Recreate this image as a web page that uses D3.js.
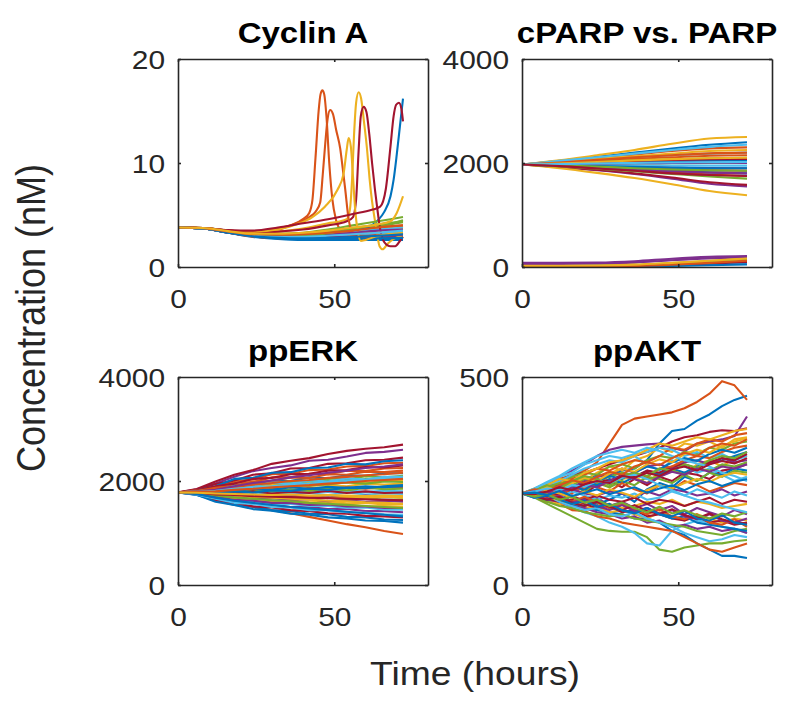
<!DOCTYPE html>
<html>
<head>
<meta charset="utf-8">
<script src="https://cdn.jsdelivr.net/npm/d3@7"></script>
<style>
  body { margin: 0; background: #fff; }
  svg { display: block; font-family: "Liberation Sans", Arial, sans-serif; }
</style>
</head>
<body>
<svg id="chart" width="800" height="711"></svg>
<script>
// MATLAB default line colour order
const palette = ["#0072BD", "#D95319", "#EDB120", "#7E2F8E", "#77AC30", "#4DBEEE", "#A2142F"];

const xTicks = [0, 50];

// ---- Cyclin A (nM) ----
const cycTime = [0, 8, 16, 24, 32, 40, 48, 56, 64, 72];
const cycBase = [
  [3.8, 3.7, 3.3, 2.9, 2.7, 2.6, 2.6, 2.6, 2.6, 2.6],
  [3.8, 3.72, 3.4, 3.1, 2.95, 2.9, 2.95, 3.0, 3.1, 3.2],
  [3.8, 3.73, 3.45, 3.2, 3.1, 3.1, 3.2, 3.4, 3.6, 3.9],
  [3.8, 3.7, 3.3, 2.95, 2.8, 2.7, 2.7, 2.75, 2.8, 2.9],
  [3.8, 3.72, 3.42, 3.15, 3.05, 3.1, 3.3, 3.6, 3.95, 4.3],
  [3.8, 3.71, 3.38, 3.05, 2.9, 2.85, 2.9, 3.0, 3.1, 3.2],
  [3.8, 3.72, 3.4, 3.1, 3.0, 3.0, 3.05, 3.1, 3.2, 3.3],
  [3.8, 3.7, 3.32, 2.98, 2.85, 2.8, 2.85, 2.9, 2.95, 3.0],
  [3.8, 3.74, 3.46, 3.25, 3.2, 3.25, 3.4, 3.6, 3.8, 4.0],
  [3.8, 3.71, 3.36, 3.02, 2.88, 2.85, 2.9, 3.0, 3.05, 3.1],
  [3.8, 3.72, 3.4, 3.1, 3.0, 3.0, 3.1, 3.25, 3.4, 3.55],
  [3.8, 3.73, 3.44, 3.18, 3.1, 3.15, 3.3, 3.55, 3.85, 4.5],
  [3.8, 3.71, 3.37, 3.05, 2.95, 2.95, 3.05, 3.2, 3.35, 3.45],
  [3.8, 3.7, 3.32, 2.95, 2.8, 2.75, 2.75, 2.8, 2.85, 2.9],
  [3.8, 3.71, 3.36, 3.02, 2.9, 2.88, 2.95, 3.05, 3.2, 3.3],
  [3.8, 3.7, 3.3, 2.92, 2.78, 2.72, 2.72, 2.75, 2.8, 2.85],
  [3.8, 3.72, 3.42, 3.12, 3.0, 3.0, 3.1, 3.25, 3.45, 3.7],
  [3.8, 3.71, 3.36, 3.0, 2.85, 2.8, 2.82, 2.88, 2.95, 3.05],
  [3.8, 3.72, 3.4, 3.08, 2.95, 2.95, 3.0, 3.1, 3.25, 3.4],
  [3.8, 3.71, 3.38, 3.04, 2.92, 2.9, 2.95, 3.05, 3.2, 3.35],
  [3.8, 3.7, 3.34, 3.0, 2.88, 2.85, 2.88, 2.95, 3.05, 3.15]
];
// cells with a division spike, as [hour, nM] pairs
const cycSpikes = [
  [[0,3.8],[8,3.75],[16,3.5],[24,3.2],[32,3.1],[40,3.1],[48,3.2],[56,3.4],[62,4.0],[64,4.5],[66,5.3],[68,6.8],[69,8.4],[70,10.8],[71,13.5],[72,16.2]],
  [[0,3.8],[8,3.75],[16,3.5],[24,3.4],[32,3.6],[36,4.0],[40,4.6],[42,5.2],[43,6.4],[44,10.5],[45,15],[45.6,16.6],[46.2,17],[46.8,16.6],[47.5,14.5],[48.4,10],[49.4,6.5],[50.5,4.6],[52,3.6],[56,3.0],[60,2.9],[66,3.0],[72,3.2]],
  [[0,3.8],[8,3.75],[16,3.5],[24,3.3],[32,3.4],[40,3.7],[48,4.2],[52,4.4],[54,4.6],[55,5.5],[55.7,8.4],[56.3,12.5],[57,15.8],[57.8,16.8],[58.6,16.2],[59.5,14],[60.5,11.3],[61.3,8.5],[62.1,6.3],[63,4.5],[63.7,3.2],[64.5,2],[65.5,1.7],[67,2.2],[69,2.7],[72,3.0]],
  [[0,3.8],[8,3.7],[16,3.35],[24,3.0],[32,2.85],[40,2.8],[48,2.85],[56,2.9],[64,3.0],[72,3.1]],
  [[0,3.8],[8,3.75],[16,3.45],[24,3.2],[32,3.2],[40,3.3],[48,3.6],[56,4.0],[64,4.4],[72,4.8]],
  [[0,3.8],[8,3.72],[16,3.4],[24,3.1],[32,3.0],[40,3.05],[48,3.2],[56,3.4],[64,3.6],[72,3.8]],
  [[0,3.8],[8,3.75],[16,3.5],[24,3.3],[32,3.4],[40,3.6],[48,4.0],[54,4.4],[56,4.8],[57,6.5],[57.8,11.2],[58.5,14.5],[59.4,15.4],[60.3,14.9],[61.2,12.8],[62.1,10],[63,7.5],[63.7,5.8],[64.7,3.6],[66,2.4],[68,2.0],[69.5,2.0],[71,2.5],[72,2.9]],
  [[0,3.8],[8,3.7],[16,3.3],[24,2.95],[32,2.75],[40,2.65],[48,2.65],[56,2.7],[64,2.75],[72,2.8]],
  [[0,3.8],[8,3.75],[16,3.5],[24,3.4],[32,3.7],[38,4.2],[42,4.8],[44,5.3],[45.5,6.2],[46.3,8.8],[47.1,11.8],[47.9,14.3],[48.7,15.1],[49.6,14.7],[50.6,13.2],[51.9,11.4],[52.7,9.5],[53.5,7.5],[54.6,4.6],[56,3.3],[60,3.0],[66,3.1],[72,3.3]],
  [[0,3.8],[8,3.75],[16,3.5],[24,3.4],[32,3.6],[38,4.1],[43,4.8],[47,5.8],[51,7.4],[53,9],[54,11.3],[54.6,12.4],[55.3,11.6],[56,8.7],[56.7,5.5],[57.5,3.5],[58.5,2.5],[60,2.6],[64,3.0],[72,3.3]],
  [[0,3.8],[8,3.72],[16,3.4],[24,3.1],[32,3.0],[40,3.0],[48,3.1],[56,3.3],[64,3.5],[72,3.6]],
  [[0,3.8],[8,3.7],[16,3.38],[24,3.05],[32,2.95],[40,3.0],[48,3.25],[56,3.7],[64,4.1],[72,4.4]],
  [[0,3.8],[8,3.7],[16,3.35],[24,3.0],[32,2.9],[40,2.9],[48,3.0],[56,3.15],[64,3.3],[72,3.5]],
  [[0,3.8],[8,3.75],[16,3.55],[24,3.5],[32,3.8],[40,4.2],[48,4.6],[56,5.1],[62,5.5],[64.7,5.8],[66.5,7.5],[68,11.6],[69,14.5],[69.8,15.6],[70.7,15.8],[71.5,15.2],[72,14.0]],
  [[0,3.8],[8,3.7],[16,3.3],[24,2.95],[32,2.8],[40,2.75],[48,2.8],[56,2.9],[64,3.0],[72,3.15]],
  [[0,3.8],[8,3.72],[16,3.42],[24,3.15],[32,3.1],[40,3.15],[48,3.3],[56,3.5],[64,3.8],[72,4.0]],
  [[0,3.8],[8,3.75],[16,3.45],[24,3.2],[32,3.2],[40,3.3],[48,3.5],[56,3.8],[64,4.1],[68,4.4],[70,5.2],[72,6.8]]
];
const cycTicks = [0, 10, 20];

// ---- cPARP vs. PARP ----
const parpTime = [0, 12, 24, 36, 48, 60, 72];
const parpHigh = [
  [1970, 2040, 2120, 2200, 2280, 2350, 2400],
  [1970, 2030, 2100, 2160, 2230, 2280, 2300],
  [1970, 2050, 2150, 2250, 2370, 2470, 2500],
  [1970, 1920, 1860, 1790, 1700, 1600, 1550],
  [1970, 1975, 1985, 1990, 1995, 2000, 2000],
  [1970, 2010, 2060, 2110, 2150, 2180, 2200],
  [1970, 1925, 1870, 1800, 1720, 1630, 1580],
  [1970, 1950, 1920, 1880, 1850, 1820, 1800],
  [1970, 2000, 2040, 2080, 2110, 2140, 2150],
  [1970, 1900, 1810, 1710, 1590, 1460, 1380],
  [1970, 1960, 1945, 1930, 1915, 1905, 1900],
  [1970, 1995, 2020, 2050, 2070, 2090, 2100],
  [1970, 1965, 1960, 1955, 1950, 1950, 1950],
  [1970, 1950, 1930, 1900, 1880, 1860, 1850],
  [1970, 1985, 2000, 2020, 2035, 2045, 2050],
  [1970, 1940, 1900, 1860, 1820, 1780, 1750],
  [1970, 2020, 2080, 2130, 2180, 2230, 2250],
  [1970, 1980, 1985, 1995, 2000, 2005, 2000],
  [1970, 1935, 1890, 1840, 1790, 1740, 1700],
  [1970, 2040, 2110, 2180, 2250, 2310, 2350],
  [1970, 1990, 2010, 2040, 2060, 2075, 2080],
  [1970, 1955, 1940, 1925, 1910, 1900, 1900],
  [1970, 2010, 2060, 2110, 2150, 2185, 2200],
  [1970, 1990, 2020, 2050, 2075, 2090, 2100],
  [1970, 1945, 1910, 1870, 1840, 1815, 1800],
  [1970, 1955, 1930, 1900, 1875, 1860, 1850],
  [1970, 1978, 1990, 2000, 2010, 2015, 2020],
  [1970, 1940, 1895, 1850, 1800, 1770, 1750]
];
const parpLow = [
  [20, 20, 25, 35, 60, 90, 115],
  [10, 10, 15, 25, 55, 95, 135],
  [15, 15, 20, 30, 60, 100, 150],
  [60, 60, 65, 85, 130, 165, 185],
  [20, 20, 25, 40, 75, 115, 160],
  [5, 5, 8, 15, 30, 50, 70],
  [10, 10, 12, 20, 40, 65, 95],
  [0, 0, 3, 8, 20, 35, 50],
  [5, 5, 8, 18, 45, 80, 120],
  [25, 25, 30, 45, 80, 120, 165],
  [80, 80, 85, 110, 160, 195, 210]
];
const parpTicks = [0, 2000, 4000];

// ---- ppERK ----
const erkTime = [0, 6, 12, 18, 24, 30, 36, 42, 48, 54, 60, 66, 72];
const erk = [
  [1780, 1810, 1840, 1930, 1930, 2010, 2000, 2070, 2050, 2110, 2100, 2150, 2150],
  [1780, 1740, 1640, 1570, 1500, 1440, 1380, 1310, 1240, 1170, 1110, 1040, 980],
  [1780, 1795, 1790, 1850, 1840, 1890, 1870, 1910, 1920, 1900, 1950, 1930, 1950],
  [1780, 1840, 1950, 2080, 2190, 2250, 2300, 2390, 2410, 2470, 2540, 2560, 2600],
  [1780, 1765, 1720, 1690, 1710, 1670, 1690, 1660, 1680, 1640, 1670, 1640, 1650],
  [1780, 1785, 1770, 1800, 1770, 1810, 1780, 1820, 1790, 1820, 1790, 1810, 1800],
  [1780, 1845, 1990, 2120, 2210, 2330, 2390, 2440, 2520, 2580, 2620, 2650, 2700],
  [1780, 1730, 1630, 1540, 1510, 1440, 1420, 1370, 1360, 1310, 1300, 1260, 1250],
  [1780, 1825, 1880, 2000, 2030, 2130, 2140, 2210, 2220, 2280, 2290, 2340, 2350],
  [1780, 1760, 1680, 1660, 1610, 1610, 1570, 1580, 1540, 1550, 1510, 1520, 1500],
  [1780, 1750, 1650, 1620, 1560, 1550, 1500, 1500, 1460, 1460, 1420, 1420, 1400],
  [1780, 1795, 1840, 1850, 1920, 1910, 1970, 1950, 2010, 1990, 2040, 2020, 2050],
  [1780, 1780, 1730, 1780, 1740, 1790, 1740, 1770, 1730, 1780, 1740, 1760, 1750],
  [1780, 1825, 1940, 2010, 2120, 2150, 2240, 2250, 2330, 2340, 2400, 2410, 2450],
  [1780, 1815, 1900, 2040, 2060, 2160, 2170, 2250, 2260, 2330, 2320, 2380, 2400],
  [1780, 1790, 1780, 1820, 1800, 1850, 1820, 1870, 1840, 1880, 1850, 1880, 1870],
  [1780, 1755, 1710, 1660, 1660, 1620, 1630, 1590, 1600, 1570, 1580, 1550, 1550],
  [1780, 1765, 1740, 1700, 1740, 1690, 1730, 1690, 1720, 1680, 1720, 1690, 1700],
  [1780, 1795, 1850, 1870, 1940, 1940, 2000, 1990, 2050, 2030, 2090, 2070, 2100],
  [1780, 1745, 1680, 1620, 1610, 1560, 1560, 1520, 1520, 1480, 1490, 1450, 1450],
  [1780, 1745, 1630, 1580, 1510, 1490, 1440, 1420, 1380, 1370, 1330, 1320, 1300],
  [1780, 1735, 1600, 1540, 1460, 1430, 1370, 1350, 1300, 1280, 1240, 1230, 1200],
  [1780, 1820, 1860, 1970, 1980, 2070, 2070, 2140, 2130, 2200, 2190, 2240, 2250],
  [1780, 1800, 1800, 1870, 1860, 1920, 1900, 1950, 1930, 1980, 1960, 2000, 2000],
  [1780, 1760, 1700, 1700, 1660, 1670, 1640, 1650, 1610, 1630, 1600, 1620, 1600],
  [1780, 1780, 1790, 1780, 1830, 1800, 1840, 1810, 1860, 1820, 1870, 1840, 1850],
  [1780, 1740, 1660, 1580, 1560, 1500, 1490, 1440, 1440, 1400, 1390, 1360, 1350],
  [1780, 1815, 1900, 1950, 2040, 2060, 2130, 2140, 2200, 2210, 2270, 2260, 2300],
  [1780, 1785, 1800, 1800, 1850, 1830, 1880, 1850, 1890, 1870, 1900, 1880, 1900],
  [1780, 1805, 1870, 1910, 1990, 2000, 2070, 2060, 2130, 2120, 2180, 2170, 2200],
  [1780, 1770, 1720, 1730, 1690, 1720, 1680, 1710, 1670, 1700, 1670, 1700, 1680],
  [1780, 1750, 1690, 1640, 1620, 1580, 1580, 1540, 1550, 1510, 1510, 1480, 1480],
  [1780, 1790, 1820, 1835, 1880, 1880, 1920, 1910, 1940, 1970, 1950, 1990, 1980],
  [1780, 1805, 1820, 1900, 1900, 1970, 1950, 2010, 1990, 2050, 2030, 2080, 2080],
  [1780, 1770, 1780, 1760, 1800, 1760, 1790, 1770, 1810, 1770, 1800, 1770, 1780],
  [1780, 1790, 1760, 1800, 1780, 1820, 1810, 1850, 1830, 1870, 1860, 1900, 1920],
  [1780, 1800, 1850, 1880, 1930, 1960, 2000, 2020, 2060, 2080, 2110, 2130, 2160],
  [1780, 1770, 1750, 1720, 1700, 1680, 1660, 1640, 1620, 1610, 1590, 1580, 1560],
  [1780, 1795, 1830, 1900, 1960, 2010, 2070, 2110, 2160, 2200, 2250, 2280, 2320],
  [1780, 1760, 1720, 1680, 1660, 1630, 1610, 1580, 1560, 1540, 1520, 1500, 1480],
  [1780, 1790, 1810, 1850, 1880, 1900, 1930, 1950, 1980, 2000, 2020, 2040, 2060],
  [1780, 1770, 1740, 1730, 1710, 1700, 1690, 1680, 1670, 1660, 1650, 1640, 1630],
  [1780, 1750, 1680, 1620, 1580, 1540, 1500, 1470, 1440, 1410, 1380, 1350, 1320],
  [1780, 1790, 1800, 1830, 1850, 1880, 1900, 1920, 1950, 1970, 2000, 2020, 2040],
  [1780, 1775, 1760, 1750, 1740, 1730, 1740, 1720, 1730, 1720, 1710, 1720, 1710]
];
const erkTicks = [0, 2000, 4000];

// ---- ppAKT ----
const aktTime = [0, 4, 8, 12, 16, 20, 24, 28, 32, 36, 40, 44, 48, 52, 56, 60, 64, 68, 72];
const akt = [
  [220, 225, 235, 240, 250, 255, 265, 260, 275, 280, 300, 340, 370, 375, 395, 410, 430, 445, 455],
  [220, 225, 240, 255, 265, 275, 295, 340, 385, 400, 405, 410, 415, 425, 440, 460, 490, 480, 445],
  [220, 230, 228, 245, 260, 250, 270, 285, 275, 300, 310, 330, 320, 340, 335, 345, 330, 350, 355],
  [220, 230, 245, 260, 275, 290, 310, 325, 332, 335, 338, 340, 330, 322, 340, 345, 350, 358, 405],
  [220, 210, 195, 180, 165, 150, 135, 130, 128, 128, 115, 85, 80, 90, 95, 100, 100, 105, 108],
  [220, 215, 205, 200, 185, 175, 165, 150, 140, 125, 100, 95, 130, 145, 155, 150, 140, 135, 125],
  [220, 230, 245, 250, 265, 270, 280, 290, 300, 310, 320, 330, 345, 355, 360, 368, 372, 370, 377],
  [220, 215, 210, 200, 195, 185, 180, 175, 170, 160, 160, 150, 130, 120, 100, 85, 70, 70, 65],
  [220, 212, 200, 195, 180, 178, 165, 160, 150, 145, 140, 135, 130, 115, 100, 85, 80, 90, 100],
  [220, 228, 215, 235, 225, 240, 250, 235, 255, 260, 245, 270, 280, 265, 290, 300, 285, 305, 310],
  [220, 210, 220, 205, 215, 200, 210, 190, 200, 185, 195, 180, 190, 170, 185, 175, 165, 180, 170],
  [220, 232, 245, 240, 260, 270, 265, 285, 290, 280, 300, 310, 305, 320, 315, 330, 325, 340, 345],
  [220, 225, 240, 250, 265, 280, 290, 300, 295, 310, 290, 275, 300, 285, 270, 280, 265, 250, 260],
  [220, 215, 225, 210, 230, 220, 240, 250, 235, 255, 240, 260, 250, 270, 265, 255, 275, 280, 290],
  [220, 218, 210, 220, 200, 210, 195, 205, 220, 200, 230, 245, 235, 260, 250, 270, 265, 280, 275],
  [220, 230, 240, 235, 255, 265, 280, 275, 290, 300, 295, 310, 330, 325, 340, 350, 345, 360, 365],
  [220, 212, 205, 195, 200, 185, 190, 175, 180, 170, 160, 175, 165, 155, 170, 160, 150, 160, 155],
  [220, 215, 205, 200, 190, 185, 175, 170, 160, 165, 150, 155, 140, 145, 135, 140, 130, 135, 125],
  [220, 225, 215, 230, 240, 225, 245, 235, 250, 240, 260, 255, 245, 265, 250, 270, 260, 275, 270],
  [220, 230, 245, 260, 270, 290, 300, 310, 305, 315, 320, 330, 325, 310, 320, 305, 315, 300, 310],
  [220, 214, 208, 200, 205, 195, 185, 190, 175, 180, 165, 170, 160, 155, 165, 150, 155, 145, 150],
  [220, 225, 230, 220, 235, 245, 240, 255, 245, 260, 275, 265, 280, 270, 285, 295, 300, 310, 320],
  [220, 215, 225, 230, 220, 240, 235, 225, 245, 230, 220, 240, 230, 250, 240, 225, 235, 245, 240],
  [220, 228, 240, 255, 250, 270, 280, 295, 300, 310, 325, 340, 335, 345, 355, 350, 360, 370, 375],
  [220, 224, 230, 240, 235, 250, 260, 265, 280, 270, 285, 290, 280, 295, 300, 290, 305, 295, 300],
  [220, 212, 200, 190, 185, 175, 170, 165, 170, 160, 155, 150, 145, 140, 130, 125, 120, 130, 135],
  [220, 210, 215, 200, 190, 180, 185, 170, 165, 175, 160, 150, 140, 125, 115, 105, 110, 120, 115],
  [220, 225, 220, 235, 230, 245, 255, 250, 265, 260, 275, 270, 285, 290, 280, 295, 305, 300, 315],
  [220, 215, 205, 210, 195, 190, 200, 185, 180, 175, 185, 170, 160, 165, 150, 145, 140, 135, 130],
  [220, 226, 235, 228, 240, 232, 250, 245, 260, 270, 260, 280, 285, 300, 310, 305, 320, 330, 335],
  [220, 216, 210, 205, 195, 200, 190, 195, 185, 190, 200, 195, 205, 190, 200, 195, 185, 190, 195],
  [220, 222, 215, 225, 230, 220, 215, 225, 220, 210, 225, 215, 230, 225, 215, 220, 230, 215, 225],
  [220, 228, 235, 245, 240, 255, 250, 260, 270, 265, 255, 260, 275, 265, 280, 275, 290, 285, 295],
  [220, 215, 220, 210, 225, 215, 205, 215, 210, 220, 205, 210, 225, 215, 230, 220, 210, 225, 215],
  [220, 218, 212, 220, 210, 205, 215, 205, 200, 210, 195, 205, 200, 190, 200, 210, 195, 205, 200],
  [220, 226, 218, 232, 240, 228, 250, 262, 255, 270, 285, 278, 295, 305, 298, 315, 325, 318, 330],
  [220, 214, 222, 210, 200, 212, 198, 185, 195, 180, 170, 182, 165, 158, 170, 150, 145, 158, 140],
  [220, 224, 236, 228, 245, 258, 250, 268, 280, 272, 290, 302, 295, 315, 325, 318, 335, 345, 352],
  [220, 216, 206, 215, 198, 205, 190, 180, 192, 178, 185, 172, 180, 165, 158, 170, 155, 150, 160],
  [220, 228, 240, 232, 250, 262, 255, 240, 258, 270, 262, 280, 275, 290, 282, 300, 310, 305, 320],
  [220, 232, 248, 262, 280, 295, 310, 318, 325, 318, 330, 322, 310, 300, 292, 285, 270, 262, 250],
  [220, 214, 205, 212, 198, 190, 200, 188, 180, 192, 178, 170, 182, 168, 160, 172, 158, 150, 148],
  [220, 210, 215, 205, 195, 202, 188, 195, 180, 172, 185, 170, 165, 178, 160, 155, 168, 150, 145],
  [220, 230, 225, 240, 252, 245, 260, 272, 265, 285, 295, 288, 305, 318, 310, 330, 340, 335, 350],
  [220, 215, 228, 220, 210, 225, 215, 230, 222, 212, 228, 240, 232, 245, 255, 248, 262, 270, 265],
  [220, 226, 220, 235, 228, 240, 235, 250, 262, 255, 245, 260, 272, 265, 280, 272, 285, 280, 290],
  [220, 212, 218, 205, 212, 198, 205, 190, 198, 185, 175, 188, 172, 180, 168, 160, 172, 165, 175],
  [220, 225, 232, 228, 240, 236, 250, 245, 258, 265, 255, 240, 228, 215, 205, 198, 190, 182, 175],
  [220, 218, 225, 235, 228, 242, 250, 245, 262, 258, 270, 262, 278, 285, 275, 290, 298, 292, 305],
  [220, 222, 216, 226, 214, 222, 230, 218, 228, 235, 222, 232, 240, 228, 242, 250, 238, 248, 255]
];
const aktTicks = [0, 500];

// ---- build series ----
const withTime = (times, rows) =>
  rows.map((row, i) => ({ points: row.map((v, k) => [times[k], v]), color: palette[i % 7] }));

const cyclinLines = withTime(cycTime, cycBase).concat(
  cycSpikes.map((pts, i) => ({ points: pts, color: palette[i % 7] }))
);
const parpLines = withTime(parpTime, parpHigh).concat(withTime(parpTime, parpLow));
const erkLines = withTime(erkTime, erk);
const aktLines = withTime(aktTime, akt);

const W = 250, H = 208;
const panels = [
  { title: "Cyclin A", left: 178, top: 59, yMax: 20, yTicks: cycTicks, lines: cyclinLines, curve: d3.curveMonotoneX },
  { title: "cPARP vs. PARP", left: 522, top: 59, yMax: 4000, yTicks: parpTicks, lines: parpLines, curve: d3.curveMonotoneX },
  { title: "ppERK", left: 178, top: 377, yMax: 4000, yTicks: erkTicks, lines: erkLines, curve: d3.curveLinear },
  { title: "ppAKT", left: 522, top: 377, yMax: 500, yTicks: aktTicks, lines: aktLines, curve: d3.curveLinear }
];

const svg = d3.select("#chart");
const axisColor = "#262626";
const tickStretch = 1.15;

panels.forEach((p, pi) => {
  const x = d3.scaleLinear().domain([0, 80]).range([0, W]);
  const y = d3.scaleLinear().domain([0, p.yMax]).range([H, 0]);
  const g = svg.append("g").attr("transform", `translate(${p.left},${p.top})`);

  g.append("clipPath").attr("id", "clip" + pi)
    .append("rect").attr("width", W).attr("height", H);

  const line = d3.line().x(d => x(d[0])).y(d => y(d[1])).curve(p.curve);

  g.append("g")
    .attr("clip-path", `url(#clip${pi})`)
    .selectAll("path")
    .data(p.lines)
    .join("path")
    .attr("d", d => line(d.points))
    .attr("fill", "none")
    .attr("stroke", d => d.color)
    .attr("stroke-width", 2.1)
    .attr("stroke-linejoin", "round");

  // box with inward ticks on all four sides
  const bottom = g.append("g").attr("transform", `translate(0,${H})`)
    .call(d3.axisBottom(x).tickValues(xTicks).tickSizeInner(-3).tickSizeOuter(0));
  const left = g.append("g")
    .call(d3.axisLeft(y).tickValues(p.yTicks).tickFormat(d3.format("d")).tickSizeInner(-3).tickSizeOuter(0));
  g.append("g")
    .call(d3.axisTop(x).tickValues(xTicks).tickSizeInner(-3).tickSizeOuter(0).tickFormat(() => ""));
  g.append("g").attr("transform", `translate(${W},0)`)
    .call(d3.axisRight(y).tickValues(p.yTicks).tickSizeInner(-3).tickSizeOuter(0).tickFormat(() => ""));

  g.selectAll(".domain").attr("stroke", axisColor).attr("stroke-width", 1.6);
  g.selectAll(".tick line").attr("stroke", axisColor).attr("stroke-width", 1.6);

  bottom.selectAll("text")
    .attr("y", 41).attr("dy", null)
    .attr("transform", `scale(${tickStretch},1)`)
    .attr("fill", axisColor)
    .style("font-size", "26px")
    .style("font-family", "'Liberation Sans', Arial, sans-serif");

  left.selectAll("text")
    .attr("x", -13 / tickStretch).attr("y", 9.5).attr("dy", null)
    .attr("transform", `scale(${tickStretch},1)`)
    .attr("fill", axisColor)
    .style("font-size", "26px")
    .style("font-family", "'Liberation Sans', Arial, sans-serif");

  g.append("text")
    .attr("transform", `translate(${W / 2},${-16}) scale(1.1,1)`)
    .attr("text-anchor", "middle")
    .attr("fill", "#000")
    .style("font-size", "30px")
    .style("font-weight", "bold")
    .text(p.title);
});

svg.append("text")
  .attr("transform", "translate(45,318) rotate(-90) scale(1,1.13)")
  .attr("text-anchor", "middle")
  .attr("fill", axisColor)
  .style("font-size", "36px")
  .text("Concentration (nM)");

svg.append("text")
  .attr("transform", "translate(475,685) scale(1.13,1)")
  .attr("text-anchor", "middle")
  .attr("fill", axisColor)
  .style("font-size", "33px")
  .text("Time (hours)");
</script>
</body>
</html>
